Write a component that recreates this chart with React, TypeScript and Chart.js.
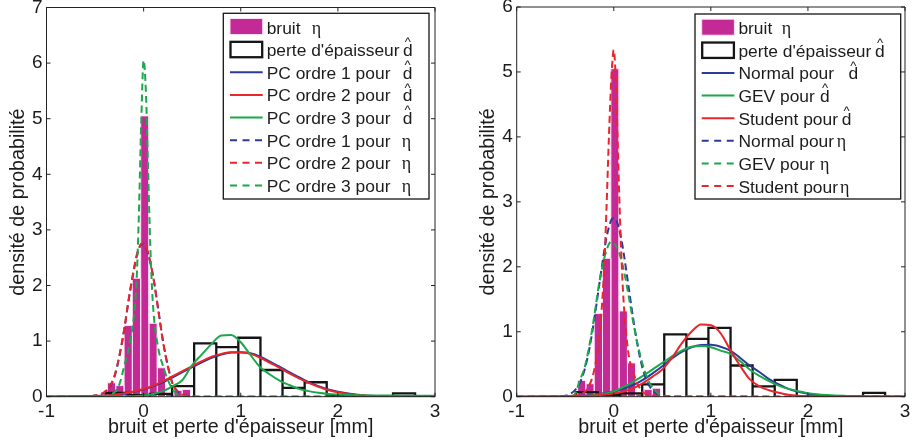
import React, { useEffect, useRef } from 'react';
import { Chart, registerables } from 'chart.js';

Chart.register(...registerables);

// ---------------- data ----------------
const xTickValues = [-1, 0, 1, 2, 3];
const yMaxLeft = 7;
const yMaxRight = 6;

// histogram of the noise (eta)
const noiseBinEdges = [-0.714, -0.629, -0.543, -0.458, -0.372, -0.287, -0.201, -0.116, -0.03, 0.055, 0.141, 0.226, 0.312, 0.397, 0.483];
const noiseBinHeights = [0.015, 0.012, 0.015, 0.0, 0.25, 0.2, 1.28, 2.13, 5.05, 1.32, 0.52, 0.04, 0.11, 0.13];

// histogram of the thickness loss (d hat)
const thicknessBinEdges = [-0.39, -0.163, 0.065, 0.293, 0.52, 0.748, 0.975, 1.203, 1.43, 1.658, 1.885, 2.113, 2.34, 2.568, 2.795];
const thicknessBinHeights = [0.07, 0.03, 0.05, 0.19, 0.96, 0.89, 1.06, 0.48, 0.16, 0.26, 0.01, 0.0, 0.0, 0.06];

// x samples of the noise densities
const etaGrid = [-1, -0.6, -0.5, -0.45, -0.4, -0.35, -0.3, -0.25, -0.2, -0.15, -0.1, -0.075, -0.05, -0.025, 0, 0.025, 0.05, 0.075, 0.1, 0.15, 0.2, 0.25, 0.3, 0.35, 0.4, 0.45, 0.5, 0.6, 1, 3];
// left panel (polynomial chaos)
const pc1Eta = [0, 0, 0.02, 0.04, 0.08, 0.17, 0.36, 0.72, 1.2, 1.78, 2.28, 2.5, 2.65, 2.74, 2.75, 2.68, 2.55, 2.36, 2.15, 1.58, 1.0, 0.55, 0.23, 0.1, 0.04, 0.015, 0.005, 0, 0, 0];
const pc2Eta = [0, 0, 0.02, 0.04, 0.09, 0.18, 0.38, 0.74, 1.22, 1.8, 2.3, 2.52, 2.67, 2.75, 2.76, 2.7, 2.56, 2.37, 2.14, 1.56, 0.98, 0.54, 0.22, 0.09, 0.035, 0.012, 0.004, 0, 0, 0];
const pc3Eta = [0, 0, 0, 0, 0.01, 0.03, 0.08, 0.22, 0.55, 0.9, 1.45, 2.0, 3.2, 4.9, 6.05, 5.4, 3.8, 2.4, 1.56, 0.88, 0.55, 0.3, 0.13, 0.03, 0.005, 0, 0, 0, 0, 0];
// right panel (fitted laws)
const normalEta = [0, 0, 0.015, 0.04, 0.1, 0.21, 0.42, 0.75, 1.2, 1.72, 2.23, 2.45, 2.61, 2.72, 2.75, 2.72, 2.61, 2.45, 2.23, 1.72, 1.2, 0.75, 0.42, 0.21, 0.1, 0.04, 0.015, 0, 0, 0];
const gevEta = [0, 0, 0, 0, 0.04, 0.25, 0.45, 0.8, 1.25, 1.75, 2.12, 2.25, 2.35, 2.39, 2.36, 2.32, 2.24, 2.12, 1.97, 1.58, 1.15, 0.78, 0.48, 0.27, 0.14, 0.06, 0.01, 0, 0, 0];
const studentEta = [0, 0.005, 0.01, 0.015, 0.02, 0.03, 0.07, 0.18, 0.42, 0.9, 1.95, 2.9, 4.0, 4.9, 5.34, 4.7, 3.4, 2.3, 1.5, 0.68, 0.38, 0.18, 0.07, 0.03, 0.02, 0.015, 0.01, 0.005, 0.002, 0];

// x samples of the thickness-loss densities
const thickGrid = [-1, -0.6, -0.4, -0.2, 0, 0.1, 0.2, 0.3, 0.4, 0.5, 0.6, 0.7, 0.8, 0.9, 1.0, 1.1, 1.2, 1.3, 1.4, 1.5, 1.6, 1.7, 1.8, 1.9, 2.0, 2.2, 2.4, 2.6, 2.8, 3.0];
const pc1Thick = [0, 0.007, 0.02, 0.055, 0.13, 0.19, 0.26, 0.35, 0.44, 0.53, 0.62, 0.7, 0.76, 0.795, 0.8, 0.78, 0.72, 0.63, 0.54, 0.44, 0.35, 0.26, 0.19, 0.13, 0.09, 0.035, 0.012, 0.004, 0.001, 0];
const pc2Thick = [0, 0.008, 0.022, 0.06, 0.14, 0.2, 0.28, 0.37, 0.46, 0.55, 0.64, 0.72, 0.77, 0.8, 0.795, 0.77, 0.7, 0.61, 0.52, 0.42, 0.33, 0.25, 0.18, 0.12, 0.08, 0.032, 0.011, 0.004, 0.001, 0];
const pc3Thick = [0, 0, 0.002, 0.005, 0.02, 0.05, 0.1, 0.19, 0.3, 0.57, 0.76, 0.95, 1.1, 1.11, 0.98, 0.75, 0.53, 0.4, 0.29, 0.21, 0.14, 0.1, 0.07, 0.05, 0.04, 0.027, 0.022, 0.02, 0.018, 0.017];
const normalThick = [0, 0.003, 0.01, 0.03, 0.08, 0.12, 0.18, 0.26, 0.36, 0.47, 0.59, 0.69, 0.76, 0.795, 0.8, 0.77, 0.71, 0.6, 0.48, 0.38, 0.27, 0.19, 0.12, 0.075, 0.045, 0.015, 0.005, 0.001, 0, 0];
const gevThick = [0, 0, 0, 0.025, 0.08, 0.15, 0.23, 0.32, 0.42, 0.52, 0.62, 0.71, 0.77, 0.78, 0.76, 0.71, 0.66, 0.55, 0.42, 0.32, 0.24, 0.17, 0.12, 0.085, 0.055, 0.025, 0.012, 0.005, 0.002, 0];
const studentThick = [0, 0.004, 0.008, 0.02, 0.05, 0.08, 0.13, 0.21, 0.31, 0.42, 0.6, 0.82, 1.0, 1.11, 1.1, 0.98, 0.72, 0.48, 0.27, 0.16, 0.1, 0.06, 0.03, 0.015, 0.01, 0.006, 0.004, 0.003, 0.002, 0.002];

// labels
const xTitle = "bruit et perte d'épaisseur [mm]";
const yTitle = 'densité de probabilité';
const leftLabels = ['bruit', "perte d'épaisseur", 'PC ordre 1 pour', 'PC ordre 2 pour', 'PC ordre 3 pour', 'PC ordre 1 pour', 'PC ordre 2 pour', 'PC ordre 3 pour'];
const rightLabels = ['bruit', "perte d'épaisseur", 'Normal pour', 'GEV pour', 'Student pour', 'Normal pour', 'GEV pour', 'Student pour'];

// ---------------- styles ----------------
const FONT = "'Liberation Sans', Arial, Helvetica, sans-serif";
const SERIF = "'Liberation Serif', 'Times New Roman', serif";
const TEXT = '#1c1c1c';
const AXIS = '#222222';
const MAGENTA = 'rgb(196, 42, 150)';
const MAGENTA_EDGE = 'rgba(255, 228, 246, 0.95)';
const BLACK = '#151515';
const BLUE = '#2c3a98';
const RED = '#e8262b';
const GREEN = '#1aa84b';
const DASH = [7, 4];
const TITLE_SIZE = 19.7;

Chart.defaults.font.family = FONT;

// ---------------- helpers ----------------
const toPoints = (xs: number[], ys: number[]) => xs.map((x, i) => ({ x, y: ys[i] }));

function histPoints(edges: number[], heights: number[]) {
  const pts: { x: number; y: number }[] = [];
  heights.forEach((h, i) => {
    pts.push({ x: edges[i], y: 0 }, { x: edges[i], y: h }, { x: edges[i + 1], y: h }, { x: edges[i + 1], y: 0 });
  });
  return pts;
}

function curve(label: string, xs: number[], ys: number[], color: string, dashed: boolean, order: number) {
  return {
    label,
    data: toPoints(xs, ys),
    borderColor: color,
    backgroundColor: color,
    borderWidth: 2,
    borderDash: dashed ? DASH : [],
    pointRadius: 0,
    fill: false,
    cubicInterpolationMode: 'monotone',
    order,
  };
}

function histDatasets() {
  return [
    {
      label: 'bruit η',
      data: histPoints(noiseBinEdges, noiseBinHeights),
      borderColor: MAGENTA_EDGE,
      backgroundColor: MAGENTA,
      borderWidth: 1,
      fill: 'origin',
      pointRadius: 0,
      tension: 0,
      order: 20,
    },
    {
      label: "perte d'épaisseur d̂",
      data: histPoints(thicknessBinEdges, thicknessBinHeights),
      borderColor: BLACK,
      borderWidth: 2.3,
      borderJoinStyle: 'miter',
      fill: false,
      pointRadius: 0,
      tension: 0,
      order: 19,
    },
  ];
}

const framePlugin = {
  id: 'matlabFrame',
  afterDatasetsDraw(chart: any) {
    const { ctx, chartArea: a, scales } = chart;
    ctx.save();
    ctx.strokeStyle = AXIS;
    ctx.lineWidth = 1;
    ctx.setLineDash([]);
    ctx.beginPath();
    ctx.rect(a.left, a.top, a.right - a.left, a.bottom - a.top);
    ctx.stroke();
    const T = 4;
    ctx.beginPath();
    scales.x.ticks.forEach((t: any) => {
      const px = scales.x.getPixelForValue(t.value);
      ctx.moveTo(px, a.bottom);
      ctx.lineTo(px, a.bottom - T);
      ctx.moveTo(px, a.top);
      ctx.lineTo(px, a.top + T);
    });
    scales.y.ticks.forEach((t: any) => {
      const py = scales.y.getPixelForValue(t.value);
      ctx.moveTo(a.left, py);
      ctx.lineTo(a.left + T, py);
      ctx.moveTo(a.right, py);
      ctx.lineTo(a.right - T, py);
    });
    ctx.stroke();
    ctx.restore();
  },
};

type LegendItem = { kind: 'patch' | 'outline' | 'line'; color: string; dashed?: boolean; text: string; symbol: 'eta' | 'dhat'; symbolOffset: number };
type LegendCfg = { rightInset: number; topInset: number; width: number; height: number; items: LegendItem[] };

function makeLegendPlugin(cfg: LegendCfg) {
  return {
    id: 'matlabLegend',
    afterDatasetsDraw(chart: any) {
      const { ctx, chartArea: a } = chart;
      const bx = a.right - cfg.rightInset - cfg.width;
      const by = a.top + cfg.topInset;
      ctx.save();
      ctx.setLineDash([]);
      ctx.fillStyle = '#ffffff';
      ctx.fillRect(bx, by, cfg.width, cfg.height);
      ctx.strokeStyle = BLACK;
      ctx.lineWidth = 1.3;
      ctx.strokeRect(bx, by, cfg.width, cfg.height);
      const sx = bx + 6.7;
      const sw = 32.7;
      const tx = bx + 43.4;
      cfg.items.forEach((it, i) => {
        const base = by + 20.2 + i * 22.63;
        const mid = base - 6.5;
        ctx.setLineDash([]);
        if (it.kind === 'patch') {
          ctx.fillStyle = it.color;
          ctx.fillRect(sx, mid - 8.5, sw, 16);
          ctx.strokeStyle = MAGENTA_EDGE;
          ctx.lineWidth = 1;
          ctx.strokeRect(sx, mid - 8.5, sw, 16);
        } else if (it.kind === 'outline') {
          ctx.strokeStyle = it.color;
          ctx.lineWidth = 2.3;
          ctx.lineJoin = 'miter';
          ctx.strokeRect(sx + 0.5, mid - 7.8, sw - 1, 15.4);
        } else {
          ctx.strokeStyle = it.color;
          ctx.lineWidth = 2;
          ctx.setLineDash(it.dashed ? [7, 5.5] : []);
          ctx.beginPath();
          ctx.moveTo(sx, mid);
          ctx.lineTo(sx + sw, mid);
          ctx.stroke();
          ctx.setLineDash([]);
        }
        ctx.fillStyle = TEXT;
        ctx.textBaseline = 'alphabetic';
        ctx.textAlign = 'left';
        ctx.font = `17.4px ${FONT}`;
        ctx.fillText(it.text, tx, base);
        const w = ctx.measureText(it.text).width;
        const symX = tx + Math.max(it.symbolOffset, w + 2);
        if (it.symbol === 'eta') {
          ctx.font = `18px ${SERIF}`;
          ctx.fillText('η', symX, base);
        } else {
          ctx.fillText('d', symX, base);
          const dw = ctx.measureText('d').width;
          ctx.font = `13px ${FONT}`;
          ctx.textAlign = 'center';
          ctx.fillText('^', symX + dw / 2, base - 9.8);
          ctx.textAlign = 'left';
        }
      });
      ctx.restore();
    },
  };
}

function makeConfig(opts: {
  yMax: number;
  datasets: any[];
  legend: LegendCfg;
  padLeft: number;
  padRight: number;
  padTop: number;
  yWidth: number;
}) {
  const tickFont = { size: 19, family: FONT };
  return {
    type: 'line',
    data: { datasets: opts.datasets },
    options: {
      animation: false,
      responsive: false,
      maintainAspectRatio: false,
      events: [],
      layout: { padding: { left: opts.padLeft, right: opts.padRight, top: opts.padTop, bottom: 8.7 } },
      plugins: { legend: { display: false }, tooltip: { enabled: false } },
      scales: {
        x: {
          type: 'linear',
          min: xTickValues[0],
          max: xTickValues[xTickValues.length - 1],
          ticks: { stepSize: 1, font: tickFont, color: TEXT, padding: 4, autoSkip: false, maxRotation: 0 },
          grid: { display: false, drawTicks: false },
          border: { display: false },
          title: { display: true, text: xTitle, font: { size: TITLE_SIZE, family: FONT }, color: TEXT, padding: { top: 0, bottom: 0 } },
          afterFit: (s: any) => {
            s.height = 42.6;
            s.paddingLeft = 0;
            s.paddingRight = 0;
            s.paddingTop = 0;
            s.paddingBottom = 0;
          },
        },
        y: {
          type: 'linear',
          min: 0,
          max: opts.yMax,
          ticks: { stepSize: 1, font: tickFont, color: TEXT, padding: 4, autoSkip: false },
          grid: { display: false, drawTicks: false },
          border: { display: false },
          title: { display: true, text: yTitle, font: { size: TITLE_SIZE, family: FONT }, color: TEXT, padding: { top: 0, bottom: 0 } },
          afterFit: (s: any) => {
            s.width = opts.yWidth;
            s.paddingLeft = 0;
            s.paddingRight = 0;
            s.paddingTop = 0;
            s.paddingBottom = 0;
          },
        },
      },
    },
    plugins: [framePlugin, makeLegendPlugin(opts.legend)],
  };
}

function leftConfig() {
  const datasets = [
    ...histDatasets(),
    curve('PC ordre 1 pour d̂', thickGrid, pc1Thick, BLUE, false, 8),
    curve('PC ordre 2 pour d̂', thickGrid, pc2Thick, RED, false, 7),
    curve('PC ordre 3 pour d̂', thickGrid, pc3Thick, GREEN, false, 6),
    curve('PC ordre 1 pour η', etaGrid, pc1Eta, BLUE, true, 5),
    curve('PC ordre 2 pour η', etaGrid, pc2Eta, RED, true, 4),
    curve('PC ordre 3 pour η', etaGrid, pc3Eta, GREEN, true, 3),
  ];
  const legend: LegendCfg = {
    rightInset: 6,
    topInset: 5.8,
    width: 205.7,
    height: 185.7,
    items: [
      { kind: 'patch', color: MAGENTA, text: leftLabels[0], symbol: 'eta', symbolOffset: 45 },
      { kind: 'outline', color: BLACK, text: leftLabels[1], symbol: 'dhat', symbolOffset: 136.3 },
      { kind: 'line', color: BLUE, text: leftLabels[2], symbol: 'dhat', symbolOffset: 136 },
      { kind: 'line', color: RED, text: leftLabels[3], symbol: 'dhat', symbolOffset: 136 },
      { kind: 'line', color: GREEN, text: leftLabels[4], symbol: 'dhat', symbolOffset: 136 },
      { kind: 'line', color: BLUE, dashed: true, text: leftLabels[5], symbol: 'eta', symbolOffset: 135 },
      { kind: 'line', color: RED, dashed: true, text: leftLabels[6], symbol: 'eta', symbolOffset: 135 },
      { kind: 'line', color: GREEN, dashed: true, text: leftLabels[7], symbol: 'eta', symbolOffset: 135 },
    ],
  };
  return makeConfig({ yMax: yMaxLeft, datasets, legend, padLeft: 7.0, padRight: 21, padTop: 7.5, yWidth: 39.5 });
}

function rightConfig() {
  const datasets = [
    ...histDatasets(),
    curve('Normal pour d̂', thickGrid, normalThick, BLUE, false, 8),
    curve('GEV pour d̂', thickGrid, gevThick, GREEN, false, 7),
    curve('Student pour d̂', thickGrid, studentThick, RED, false, 6),
    curve('Normal pour η', etaGrid, normalEta, BLUE, true, 5),
    curve('GEV pour η', etaGrid, gevEta, GREEN, true, 4),
    curve('Student pour η', etaGrid, studentEta, RED, true, 3),
  ];
  const legend: LegendCfg = {
    rightInset: 4.3,
    topInset: 7,
    width: 205.7,
    height: 185,
    items: [
      { kind: 'patch', color: MAGENTA, text: rightLabels[0], symbol: 'eta', symbolOffset: 43.4 },
      { kind: 'outline', color: BLACK, text: rightLabels[1], symbol: 'dhat', symbolOffset: 136.7 },
      { kind: 'line', color: BLUE, text: rightLabels[2], symbol: 'dhat', symbolOffset: 110 },
      { kind: 'line', color: GREEN, text: rightLabels[3], symbol: 'dhat', symbolOffset: 81.7 },
      { kind: 'line', color: RED, text: rightLabels[4], symbol: 'dhat', symbolOffset: 103.4 },
      { kind: 'line', color: BLUE, dashed: true, text: rightLabels[5], symbol: 'eta', symbolOffset: 98.4 },
      { kind: 'line', color: GREEN, dashed: true, text: rightLabels[6], symbol: 'eta', symbolOffset: 81.7 },
      { kind: 'line', color: RED, dashed: true, text: rightLabels[7], symbol: 'eta', symbolOffset: 101.7 },
    ],
  };
  return makeConfig({ yMax: yMaxRight, datasets, legend, padLeft: 20.6, padRight: 7, padTop: 7, yWidth: 40.1 });
}

function Panel({ makeCfg, left }: { makeCfg: () => any; left: number }) {
  const ref = useRef<HTMLCanvasElement>(null);
  useEffect(() => {
    if (!ref.current) return;
    const chart = new Chart(ref.current, makeCfg());
    return () => chart.destroy();
  }, []);
  return (
    <canvas
      ref={ref}
      width={456}
      height={448}
      style={{ position: 'absolute', left, top: 0, width: 456, height: 448 }}
    />
  );
}

export default function App() {
  return (
    <div style={{ position: 'fixed', left: 0, top: 0, width: 912, height: 448, background: '#ffffff', overflow: 'hidden' }}>
      <Panel makeCfg={leftConfig} left={0} />
      <Panel makeCfg={rightConfig} left={456} />
    </div>
  );
}
